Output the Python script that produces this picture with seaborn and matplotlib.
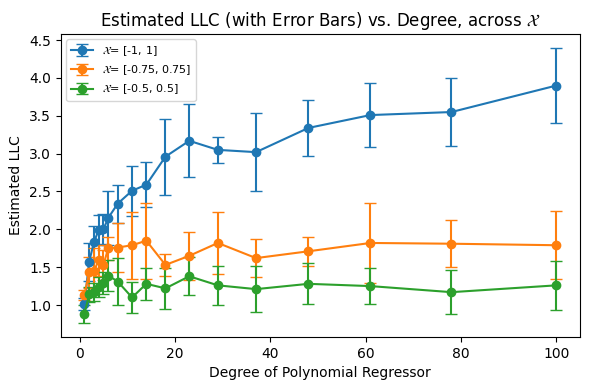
import numpy as np
import pandas as pd
import matplotlib
matplotlib.use("Agg")
import matplotlib.pyplot as plt
import seaborn as sns

# polynomial degrees
degrees = [1, 2, 3, 4, 5, 6, 8, 11, 14, 18, 23, 29, 37, 48, 61, 78, 100]

# estimated LLC per input domain
llc_x1 = [1.01, 1.57, 1.83, 1.99, 2.00, 2.15, 2.34, 2.51, 2.59, 2.96, 3.17, 3.05, 3.02, 3.34, 3.51, 3.55, 3.90]
err_x1 = [0.08, 0.25, 0.22, 0.20, 0.20, 0.36, 0.25, 0.33, 0.30, 0.50, 0.48, 0.17, 0.52, 0.37, 0.42, 0.45, 0.50]

llc_x075 = [1.13, 1.43, 1.45, 1.59, 1.53, 1.75, 1.76, 1.79, 1.85, 1.53, 1.65, 1.82, 1.62, 1.71, 1.82, 1.81, 1.79]
err_x075 = [0.07, 0.20, 0.30, 0.20, 0.20, 0.15, 0.33, 0.44, 0.50, 0.15, 0.32, 0.41, 0.25, 0.19, 0.53, 0.31, 0.45]

llc_x05 = [0.88, 1.14, 1.17, 1.24, 1.29, 1.39, 1.31, 1.10, 1.28, 1.22, 1.38, 1.26, 1.21, 1.28, 1.25, 1.17, 1.26]
err_x05 = [0.12, 0.10, 0.12, 0.13, 0.15, 0.20, 0.31, 0.21, 0.21, 0.27, 0.25, 0.26, 0.30, 0.27, 0.24, 0.29, 0.32]

labels = [r"$\mathcal{X}$= [-1, 1]", r"$\mathcal{X}$= [-0.75, 0.75]", r"$\mathcal{X}$= [-0.5, 0.5]"]

df = pd.concat([
    pd.DataFrame({"degree": degrees, "llc": llc_x1, "err": err_x1, "domain": labels[0]}),
    pd.DataFrame({"degree": degrees, "llc": llc_x075, "err": err_x075, "domain": labels[1]}),
    pd.DataFrame({"degree": degrees, "llc": llc_x05, "err": err_x05, "domain": labels[2]}),
])

palette = sns.color_palette("tab10", 3)

fig, ax = plt.subplots(figsize=(5.9, 3.9), dpi=100)
for color, (name, grp) in zip(palette, df.groupby("domain", sort=False)):
    ax.errorbar(grp["degree"], grp["llc"], yerr=grp["err"], fmt="-o", color=color,
                capsize=4, markersize=6, label=name)

ax.set_title(r"Estimated LLC (with Error Bars) vs. Degree, across $\mathcal{X}$")
ax.set_xlabel("Degree of Polynomial Regressor")
ax.set_ylabel("Estimated LLC")
ax.legend(loc="upper left", fontsize=8)
fig.subplots_adjust(left=0.103, right=0.983, bottom=0.136, top=0.913)
plt.savefig("out.png", dpi=100)
plt.close()
